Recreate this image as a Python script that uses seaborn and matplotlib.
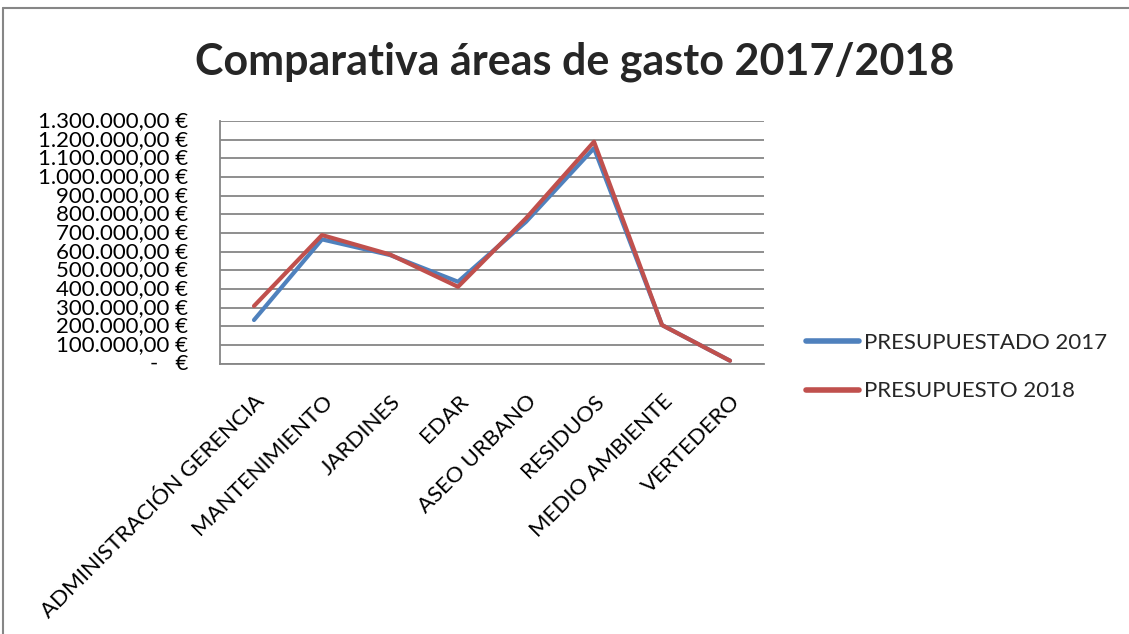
import matplotlib
matplotlib.use("Agg")
import matplotlib.pyplot as plt
import seaborn as sns
import pandas as pd
from matplotlib.lines import Line2D
from matplotlib.ticker import FuncFormatter, MultipleLocator

categories = ["ADMINISTRACIÓN GERENCIA", "MANTENIMIENTO", "JARDINES", "EDAR",
              "ASEO URBANO", "RESIDUOS", "MEDIO AMBIENTE", "VERTEDERO"]
presupuestado_2017 = [234000, 666000, 582000, 439000, 760000, 1154000, 207000, 16000]
presupuesto_2018 = [309000, 689000, 585000, 412000, 779000, 1189000, 207000, 16000]
series_names = ["PRESUPUESTADO 2017", "PRESUPUESTO 2018"]

df = pd.DataFrame({
    "cat": categories * 2,
    "val": presupuestado_2017 + presupuesto_2018,
    "serie": [series_names[0]] * len(categories) + [series_names[1]] * len(categories),
})

sns.set_theme(style="white")
plt.rcParams["font.family"] = ["Lato", "DejaVu Sans"]

fig = plt.figure(figsize=(11.29, 6.34), dpi=100)
ax = fig.add_axes([220/1129, 1-363.7/634, (764-220)/1129, (363.7-121)/634])

sns.lineplot(data=df, x="cat", y="val", hue="serie", sort=False,
             palette=["#4F81BD", "#C0504D"], linewidth=3.0, ax=ax,
             legend=False)

ax.set_xlim(-0.5, len(categories) - 0.5)
ax.set_ylim(0, 1300000)
ax.yaxis.set_major_locator(MultipleLocator(100000))

def fmt(v, pos):
    if abs(v) < 1:
        return "-   €"
    s = f"{int(round(v)):,}".replace(",", ".")
    return s + ",00 €"

ax.yaxis.set_major_formatter(FuncFormatter(fmt))
ax.grid(axis="y", color="#868686", linewidth=1.3)
ax.grid(axis="x", visible=False)
ax.set_axisbelow(True)
for side in ["top", "right"]:
    ax.spines[side].set_visible(False)
for side in ["left", "bottom"]:
    ax.spines[side].set_color("#868686")
    ax.spines[side].set_linewidth(1.3)

ax.set_xlabel("")
ax.set_ylabel("")
ax.tick_params(axis="y", labelsize=16, pad=23, length=0, labelcolor="black")
ax.tick_params(axis="x", labelsize=16, length=0, pad=20, labelcolor="black")
ax.set_xticks(range(len(categories)))
ax.set_xticklabels(categories, rotation=45, ha="right", rotation_mode="anchor")
for lab in ax.get_yticklabels():
    lab.set_va("center")

handles = [Line2D([0], [0], color="#4F81BD", lw=4, solid_capstyle="round"),
           Line2D([0], [0], color="#C0504D", lw=4, solid_capstyle="round")]
fig.legend(handles, series_names, loc="center left",
           bbox_to_anchor=(786/1129, 1-367/634), frameon=False,
           fontsize=16, handlelength=2.4, handletextpad=0.2, labelspacing=1.3)

fig.text(0.509, 1-62/634, "Comparativa áreas de gasto 2017/2018",
         ha="center", va="center", fontsize=31, fontweight="bold")

fig.add_artist(Line2D([3/1129, 3/1129], [0, 1-8/634], transform=fig.transFigure,
                      color="#868686", lw=1.5))
fig.add_artist(Line2D([3/1129, 1], [1-8/634, 1-8/634], transform=fig.transFigure,
                      color="#868686", lw=1.5))

fig.savefig("out.png", dpi=100)
